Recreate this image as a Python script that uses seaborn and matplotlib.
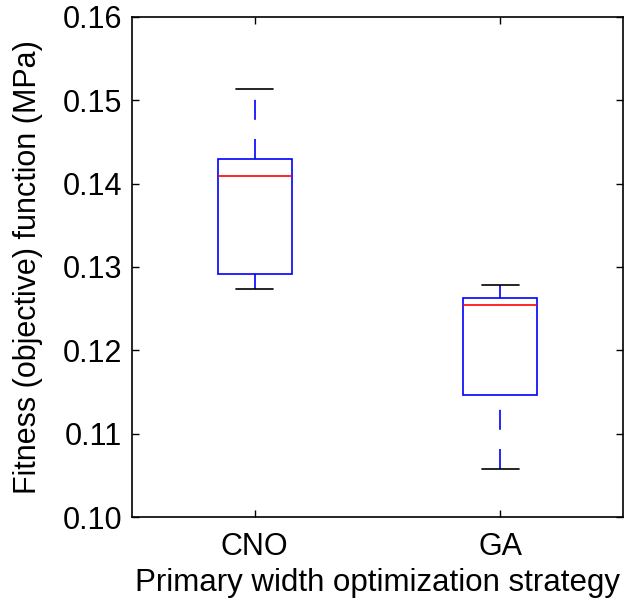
import numpy as np
import pandas as pd
import matplotlib
matplotlib.use("Agg")
import matplotlib.pyplot as plt
import seaborn as sns

categories = ["CNO", "GA"]
# five-number summaries: min, q1, median, q3, max
cno_values = [0.1274, 0.1292, 0.1409, 0.1429, 0.1514]
ga_values = [0.1058, 0.1147, 0.1255, 0.1263, 0.1278]
yticks = [0.10, 0.11, 0.12, 0.13, 0.14, 0.15, 0.16]
ytick_labels = ["0.10", "0.11", "0.12", "0.13", "0.14", "0.15", "0.16"]

df = pd.DataFrame({
    "strategy": [categories[0]] * len(cno_values) + [categories[1]] * len(ga_values),
    "value": cno_values + ga_values,
})

sns.set_style("white")
plt.rcParams["font.family"] = ["Liberation Sans", "DejaVu Sans"]

fig = plt.figure(figsize=(6.26, 6.0), dpi=100)
ax = fig.add_axes([0.211, 0.138, 0.784, 0.834])

sns.boxplot(
    data=df, x="strategy", y="value", order=categories, ax=ax,
    width=0.3, whis=1.5, showfliers=False,
    boxprops=dict(facecolor="none", edgecolor="#0000ff", linewidth=1.2),
    whiskerprops=dict(color="#0000ff", linewidth=1.2, linestyle=(0, (12.0, 11.5))),
    capprops=dict(color="black", linewidth=1.2),
    medianprops=dict(color="#ff0000", linewidth=1.2),
    capwidths=0.15,
)

# MATLAB draws whiskers from the lower end upward; reverse direction of lower whiskers
for ln in ax.lines:
    xd = np.asarray(ln.get_xdata(), dtype=float)
    yd = np.asarray(ln.get_ydata(), dtype=float)
    if len(xd) == 2 and xd[0] == xd[1] and yd[0] > yd[1]:
        ln.set_data(xd[::-1], yd[::-1])

ax.set_xlim(-0.5, 1.5)
ax.set_ylim(0.10, 0.16)
ax.set_yticks(yticks)
ax.set_yticklabels(ytick_labels)
ax.set_xlabel("Primary width optimization strategy", fontsize=22.5, labelpad=4, color="black")
ax.set_ylabel("Fitness (objective) function (MPa)", fontsize=22, labelpad=14, color="black")
ax.tick_params(axis="both", direction="in", length=5, width=1, labelsize=22,
               top=True, right=True, bottom=True, left=True, color="black", labelcolor="black")
ax.tick_params(axis="x", pad=11)
ax.tick_params(axis="y", pad=7)
for s in ax.spines.values():
    s.set_visible(True)
    s.set_color("black")
    s.set_linewidth(1.2)

fig.savefig("out.png", dpi=100)
